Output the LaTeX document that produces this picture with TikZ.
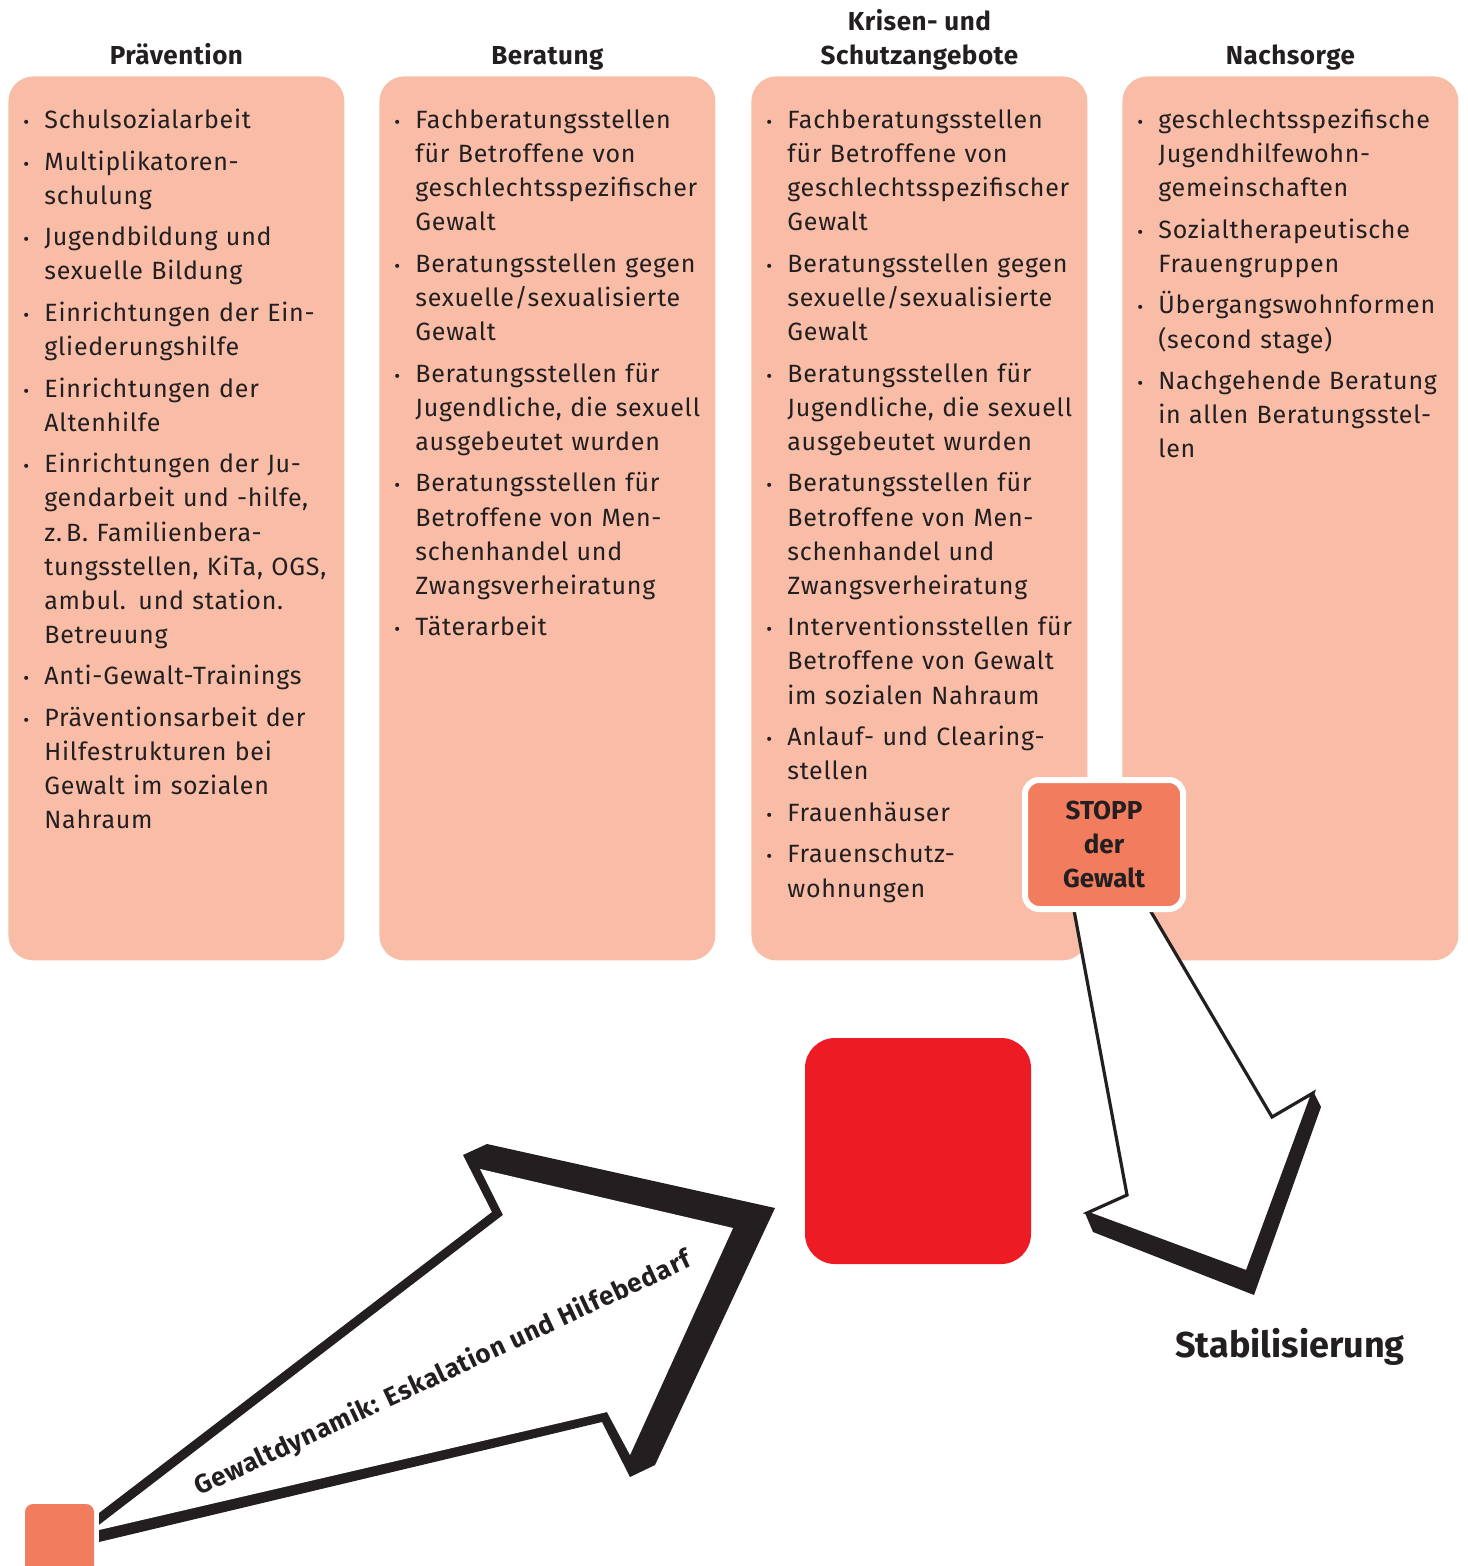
\documentclass[tikz,border=0pt]{standalone}
\usepackage{fontspec}
\setmainfont{Fira Sans}
\usetikzlibrary{positioning}
\definecolor{boxpink}{HTML}{F9BDA7}
\definecolor{stopporange}{HTML}{F27C5E}
\definecolor{alarmred}{HTML}{ED1C24}
\definecolor{inkgray}{HTML}{231F20}
\newenvironment{offers}{%
	\begin{list}{\makebox[0pt][l]{\fontsize{9}{9}\selectfont\textbullet}}{%
		\setlength{\leftmargin}{10.5pt}\setlength{\labelwidth}{0pt}%
		\setlength{\labelsep}{10.5pt}\setlength{\itemsep}{3.75pt}%
		\setlength{\parsep}{0pt}\setlength{\topsep}{0pt}\setlength{\partopsep}{0pt}}%
	\raggedright}{\end{list}}
\tikzset{colbox/.style = {fill=boxpink, rounded corners=12.5pt, inner sep=0pt,
		minimum width=168pt, minimum height=442pt, anchor=north west},
	coltitle/.style = {font=\bfseries\fontsize{13}{17}\selectfont\addfontfeatures{LetterSpace=2}, align=center,
		text=inkgray, inner sep=0pt, text depth=0pt},
	itemtext/.style = {anchor=north west, inner sep=0pt, text width=175pt,
		font=\fontsize{12.5}{17.05}\selectfont\addfontfeatures{LetterSpace=3}, text=inkgray}
}
\begin{document}
\begin{tikzpicture}[x=0.5pt, y=-0.5pt,
					stoppbox/.style={fill=stopporange, draw=white, line width=3pt, rounded corners=7pt,
						minimum width=79pt, minimum height=64.5pt, align=center, inner sep=0pt,
						font=\bfseries\fontsize{13}{17}\selectfont, text=inkgray},
					band/.style={fill=inkgray},
					face/.style={fill=white},
					arrowtext/.style={font=\bfseries\fontsize{13}{15}\selectfont\addfontfeatures{LetterSpace=3}, text=inkgray}
					]
					\useasboundingbox (0,0) rectangle (1467,1566);

					% columns
					\node[colbox] (prevbox) at (8,76) {};
					\node[colbox] (berbox) at (379,76) {};
					\node[colbox] (krisbox) at (751,76) {};
					\node[colbox] (nachbox) at (1122,76) {};

					\node[coltitle, above=5.5pt of prevbox] (prevtitle) {Prävention};
					\node[coltitle, above=5.5pt of berbox] (bertitle) {Beratung};
					\node[coltitle, above=5.5pt of krisbox] (kristitle) {Krisen- und\\Schutzangebote};
					\node[coltitle, above=5.5pt of nachbox] (nachtitle) {Nachsorge};

					\node[itemtext] (prevlist) at ([xshift=7.5pt, yshift=-9pt]prevbox.north west) {%
						\begin{offers}
							\item Schulsozialarbeit
							\item Multiplikatoren-\\schulung
							\item Jugendbildung und\\sexuelle Bildung
							\item Einrichtungen der Ein-\\gliederungshilfe
							\item Einrichtungen der\\Altenhilfe
							\item Einrichtungen der Ju-\\gendarbeit und -hilfe,\\z.\,B. Familienbera-\\tungsstellen, KiTa, OGS,\\ambul. und station.\\Betreuung
							\item Anti-Gewalt-Trainings
							\item Präventionsarbeit der\\Hilfestrukturen bei\\Gewalt im sozialen\\Nahraum
						\end{offers}};
					\node[itemtext] (berlist) at ([xshift=7.5pt, yshift=-9pt]berbox.north west) {%
						\begin{offers}
							\item Fachberatungsstellen\\für Betroffene von\\geschlechtsspezifischer\\Gewalt
							\item Beratungsstellen gegen\\sexuelle/sexualisierte\\Gewalt
							\item Beratungsstellen für\\Jugendliche, die sexuell\\ausgebeutet wurden
							\item Beratungsstellen für\\Betroffene von Men-\\schenhandel und\\Zwangsverheiratung
							\item Täterarbeit
						\end{offers}};
					\node[itemtext] (krislist) at ([xshift=7.5pt, yshift=-9pt]krisbox.north west) {%
						\begin{offers}
							\item Fachberatungsstellen\\für Betroffene von\\geschlechtsspezifischer\\Gewalt
							\item Beratungsstellen gegen\\sexuelle/sexualisierte\\Gewalt
							\item Beratungsstellen für\\Jugendliche, die sexuell\\ausgebeutet wurden
							\item Beratungsstellen für\\Betroffene von Men-\\schenhandel und\\Zwangsverheiratung
							\item Interventionsstellen für\\Betroffene von Gewalt\\im sozialen Nahraum
							\item Anlauf- und Clearing-\\stellen
							\item Frauenhäuser
							\item Frauenschutz-\\wohnungen
						\end{offers}};
					\node[itemtext] (nachlist) at ([xshift=7.5pt, yshift=-9pt]nachbox.north west) {%
						\begin{offers}
							\item geschlechtsspezifische\\Jugendhilfewohn-\\gemeinschaften
							\item Sozialtherapeutische\\Frauengruppen
							\item Übergangswohnformen\\(second stage)
							\item Nachgehende Beratung\\in allen Beratungsstel-\\len
						\end{offers}};

					% escalation arrow
					\fill[stopporange, rounded corners=4pt] (25,1504) rectangle (94,1600);
					\fill[band] (99,1513) -- (492,1212) -- (463,1155) -- (487,1144) -- (775,1208) -- (655,1465)
						-- (630,1477) -- (602,1422) -- (99,1542) -- cycle;
					\fill[face] (99,1525) -- (503,1215) -- (480,1169) -- (733,1228) -- (630,1455)
						-- (607,1412) -- (99,1530) -- cycle;
					\node[arrowtext, rotate=25] (esktext) at (443,1374) {Gewaltdynamik: Eskalation und Hilfebedarf};
					\node[fill=alarmred, rounded corners=15pt, minimum size=113pt, inner sep=0pt] (peak) at (918,1151) {};

					% stabilisation arrow
					\draw[inkgray, line width=1.6pt, face] (1073,905) -- (1127,1195) -- (1087,1213) -- (1247,1272)
						-- (1313,1093) -- (1272,1117) -- (1147,905);
					\fill[band] (1085,1213) -- (1093,1232) -- (1254,1295) -- (1321,1107) -- (1313,1091)
						-- (1247,1272) -- cycle;
					\node[stoppbox] (stopp) at (1104,844.5) {STOPP\\der\\Gewalt};
					\node[font=\bfseries\fontsize{18}{20}\selectfont, text=inkgray] (stabil) at (1290,1347) {Stabilisierung};

				\end{tikzpicture}
\end{document}
